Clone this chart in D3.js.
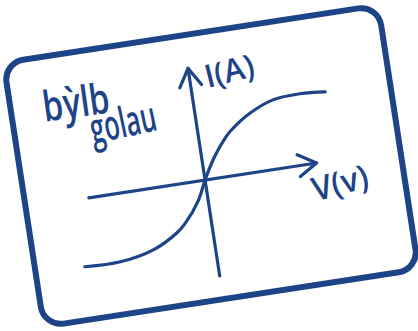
<!DOCTYPE html>
<html>
<head>
<meta charset="utf-8">
<script src="https://cdn.jsdelivr.net/npm/d3@7"></script>
<style>
  html, body { margin: 0; padding: 0; background: #ffffff; }
  svg { display: block; }
  text { font-family: "Open Sans", "Noto Sans", sans-serif; fill: #1e4488; }
</style>
</head>
<body>
<script>
// ---- data (arbitrary units) ----
const voltage = [-11, -8, -5.1, -3, -2.2, -0.8, 0, 1.1, 2.3, 2.8, 4.5, 6.6, 8.9, 11];
const current = [-6.75, -6.8, -6.1, -4.8, -4.0, -1.9, 0, 2.2, 4.0, 4.55, 5.9, 6.9, 7.1, 6.9];
const vAxisExtent = [-9.8, 9.4];   // horizontal axis (V)
const iAxisExtent = [-9.7, 11.3];  // vertical axis (I)
const titleLines = ["bỳlb", "golau"];
const xLabel = "V(v)";
const yLabel = "I(A)";

const W = 418, H = 331;
const ink = "#1e4488";
const tilt = -8.7, cx = 211, cy = 166;

const svg = d3.select("body").append("svg")
  .attr("width", W).attr("height", H);

// card
svg.append("rect")
  .attr("x", cx - 189.5).attr("y", cy - 133.5)
  .attr("width", 379).attr("height", 267)
  .attr("rx", 20).attr("ry", 20)
  .attr("fill", "none").attr("stroke", ink).attr("stroke-width", 6)
  .attr("transform", `rotate(${tilt},${cx},${cy})`);

// chart group (tilted like the card)
const g = svg.append("g").attr("transform", `rotate(${tilt},${cx},${cy})`);

const x = d3.scaleLinear().domain([-10, 10]).range([83, 323]);
const y = d3.scaleLinear().domain([-10, 10]).range([279, 79]);

const strokeStyle = sel => sel.attr("fill", "none").attr("stroke", ink)
  .attr("stroke-width", 3.2).attr("stroke-linecap", "round").attr("stroke-linejoin", "round");

// horizontal axis + arrow
g.append("line")
  .attr("x1", x(vAxisExtent[0])).attr("x2", x(vAxisExtent[1]))
  .attr("y1", y(0)).attr("y2", y(0)).call(strokeStyle);
const hx = x(vAxisExtent[1]), hy = y(0);
g.append("path").attr("d", `M${hx - 18},${hy - 11}L${hx},${hy}L${hx - 18},${hy + 11}`).call(strokeStyle);

// vertical axis + arrow
g.append("line")
  .attr("x1", x(0)).attr("x2", x(0))
  .attr("y1", y(iAxisExtent[0])).attr("y2", y(iAxisExtent[1])).call(strokeStyle);
const vx = x(0), vy = y(iAxisExtent[1]);
g.append("path").attr("d", `M${vx - 11},${vy + 18}L${vx},${vy}L${vx + 11},${vy + 18}`).call(strokeStyle);

// I-V curve
const pts = voltage.map((v, i) => [v, current[i]]);
g.append("path")
  .attr("d", d3.line().x(d => x(d[0])).y(d => y(d[1])).curve(d3.curveCatmullRom.alpha(0.5))(pts))
  .call(strokeStyle);

// labels
function label(str, px, py, rot, size, len) {
  svg.append("text")
    .attr("transform", `translate(${px},${py}) rotate(${rot})`)
    .attr("text-anchor", "middle")
    .attr("font-size", size).attr("font-weight", 600)
    .attr("textLength", len).attr("lengthAdjust", "spacingAndGlyphs")
    .text(str);
}
label(titleLines[0], 78, 117, -8, 42, 67);
label(titleLines[1], 126, 137, -12, 42, 67);
label(yLabel, 232, 82, -14, 32, 50);
label(xLabel, 343, 194, -15, 33, 57);
</script>
</body>
</html>
